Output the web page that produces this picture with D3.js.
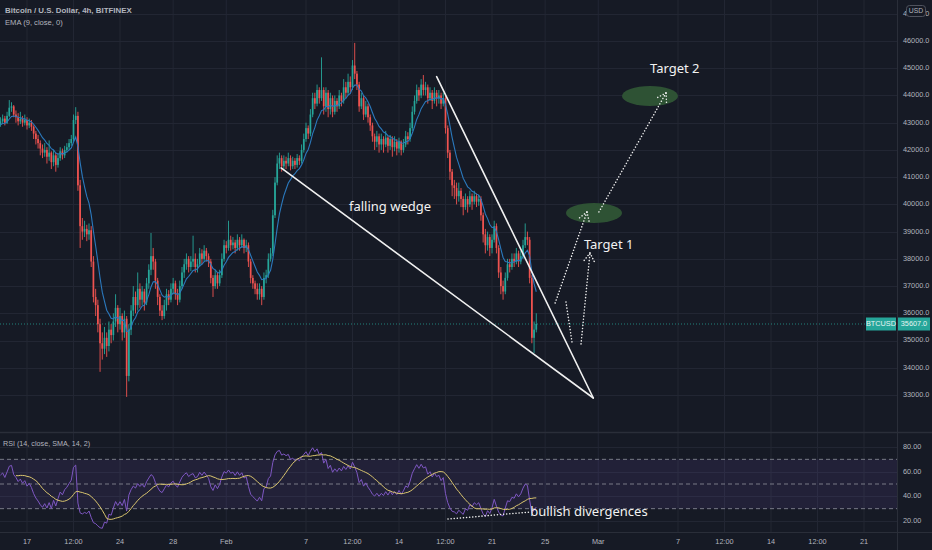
<!DOCTYPE html>
<html><head><meta charset="utf-8">
<script src="https://cdn.jsdelivr.net/npm/d3@7"></script>
<style>html,body{margin:0;padding:0;background:#161a25;overflow:hidden}</style>
</head><body><svg id="c" width="932" height="550"></svg>
<script>
// ---------------- DATA ----------------
const firstBar = "2022-01-15T00:00:00Z";      // time of closes[0], 4h bars
const barHours = 4;
// closes of the 20 bars before the first visible bar (warm-up for EMA / RSI)
const preCloses = [42600,42800,43100,43300,43500,43700,43600,43400,43100,42800,
                   42600,42700,42900,43100,42800,42600,42700,42900,43000,42950];
const closes = [
43050,43150,43000,43250,43550,43600,43300,43200,43050,43150,43000,43100,42900,43000,42850,
42600,42400,42250,42050,41900,42000,41750,41900,41550,41800,41450,41700,41950,41800,42000,
42100,42250,42400,43100,43250,40700,39200,39000,39100,38900,39050,37900,36600,36300,35600,
34900,34700,35100,34800,35400,35200,35700,36200,35600,35900,35300,35800,33700,35400,36100,
36600,36300,36900,36500,36800,36400,37100,37600,38100,37900,37200,36600,36100,35900,36300,
36700,36500,36900,37100,36700,36500,37000,37500,37800,38000,37700,37900,38000,37700,37800,
38200,38000,38300,38100,37900,37300,37000,37400,37100,37400,38000,38500,38400,38700,38500,
38600,38400,38700,38500,38700,38400,38500,37900,37300,37100,36900,36700,36900,36600,37300,
37400,38000,38200,39600,40800,41500,41700,41400,41600,41500,41700,41400,41600,41450,41700,
41600,42000,42400,42800,42600,43300,43900,43700,44200,43900,44200,43600,44100,43500,43900,
43400,43800,43600,44000,43800,44300,44100,44500,44300,45100,44800,44400,43600,43900,43300,
43600,43200,42900,42500,42300,42500,42200,42400,42200,42450,42150,42400,42100,42300,42050,
42300,42000,42200,42500,42400,42800,43400,43800,44200,44000,44400,44200,44300,43900,44100,
43800,44100,43900,44000,43700,43900,42800,41900,41200,40700,40600,40300,40500,40200,39900,
40200,40000,40300,40100,40300,40100,40200,39600,38900,38500,38800,38400,38700,39200,38400,
37500,37000,36800,37300,37800,37700,38000,37900,38200,37900,38100,38500,38800,38700,37300,
35100,35400,35607];
const highs = [
43200,43300,43250,43400,43830,43750,43650,43450,43350,43400,43250,43300,43200,43150,43100,
42900,42700,42550,42350,42200,42250,42100,42350,41950,42000,41900,41850,42100,42050,42150,
42250,42400,42550,43300,43570,43400,40900,39500,39400,39250,39300,39200,38100,36900,36500,
35800,35300,35500,35300,35700,35600,36000,36700,36300,36200,36000,36100,35900,35600,36300,
37000,36800,37500,37100,37000,36900,37300,37800,38950,38400,38000,37300,36700,36300,36500,
36900,36850,37100,37300,37200,36900,37200,37700,38000,38200,38100,38100,38850,38200,38000,
38400,38350,38500,38400,38200,38000,37400,37600,37500,37600,38200,38700,38650,39400,38850,
38800,38700,38900,38800,38900,38750,38700,38600,38000,37400,37200,37100,37100,37000,37500,
37600,38200,38400,39800,41000,41800,41900,41800,41800,41750,41900,41800,41750,41700,41850,
41800,42200,42600,43000,42900,43500,44100,44100,44400,44300,45400,44300,44300,44200,44100,
44000,44000,43900,44200,44100,44600,44500,44800,44700,45300,45930,44900,44500,44100,44000,
43800,43700,43300,43000,42600,42700,42600,42600,42500,42700,42500,42550,42500,42500,42400,
42450,42350,42400,42700,42650,43000,43600,44000,44400,44300,44600,44750,44500,44400,44300,
44200,44300,44200,44200,44100,44100,44000,42900,42000,41300,40900,40800,40800,40600,40300,
40400,40300,40500,40400,40500,40400,40350,40300,39700,39100,39000,38900,38900,39400,39300,
38500,37700,37200,37500,38000,38000,38200,38200,38400,38300,38300,38700,39300,39000,38800,
37400,35700,36000];
const lows = [
42850,42950,42900,42950,43200,43400,43200,43000,42900,42950,42850,42900,42750,42800,42700,
42400,42200,42050,41800,41700,41750,41500,41600,41300,41400,41200,41350,41600,41650,41700,
41900,42000,42150,42300,42950,40500,38400,38700,38800,38650,38700,37700,36400,35900,35300,
33850,34300,34500,34400,34600,34900,35000,35500,35300,35400,35000,35100,32930,33500,35200,
35900,36000,36100,36200,36300,36100,36300,36900,37400,37600,36900,36300,35900,35750,35800,
36100,36300,36400,36700,36500,36300,36400,36900,37300,37600,37500,37550,37700,37500,37500,
37700,37800,37900,37900,37700,37100,36600,36900,36900,37000,37300,37900,38200,38300,38300,
38350,38200,38300,38300,38400,38200,38250,37700,37100,36900,36700,36500,36500,36300,36500,
37100,37300,37900,38100,39500,40700,41300,41200,41250,41300,41400,41250,41300,41300,41350,
41450,41500,41900,42300,42400,42500,43200,43500,43600,43700,43800,43300,43400,43200,43300,
43200,43300,43400,43500,43600,43700,43900,44000,44100,44200,44600,44200,43400,43500,43100,
43200,43000,42700,42300,42000,42100,41900,42000,41900,42100,41900,42000,41750,41950,41800,
41900,41800,41900,42100,42200,42300,42700,43300,43700,43800,43900,44000,44000,43700,43800,
43500,43700,43600,43700,43500,43600,42600,41700,40900,40300,40200,40000,40100,39900,39600,
39800,39700,39900,39800,40000,39900,39950,39400,38600,38200,38300,38100,38200,38600,38200,
37300,36700,36500,36700,37200,37500,37600,37700,37800,37700,37800,38000,38400,38500,37100,
34900,34540,35300];
const lastPrice = 35607;
const priceTicks = [33000,34000,35000,36000,37000,38000,39000,40000,41000,42000,43000,44000,45000,46000,47000];
const rsiTicks = [20,40,60,80];
const rsiLevels = [70,50,30];
const timeTicks = [
  ["2022-01-17T00:00:00Z","17"],["2022-01-20T12:00:00Z","12:00"],["2022-01-24T00:00:00Z","24"],
  ["2022-01-28T00:00:00Z","28"],["2022-02-01T00:00:00Z","Feb"],["2022-02-07T00:00:00Z","7"],
  ["2022-02-10T12:00:00Z","12:00"],["2022-02-14T00:00:00Z","14"],["2022-02-17T12:00:00Z","12:00"],
  ["2022-02-21T00:00:00Z","21"],["2022-02-25T00:00:00Z","25"],["2022-03-01T00:00:00Z","Mar"],
  ["2022-03-07T00:00:00Z","7"],["2022-03-10T12:00:00Z","12:00"],["2022-03-14T00:00:00Z","14"],
  ["2022-03-17T12:00:00Z","12:00"],["2022-03-21T00:00:00Z","21"]];
// drawings (time, price)
const wedgeLower = [["2022-02-05T03:00:00Z",41337],["2022-02-28T15:00:00Z",32890]];
const wedgeUpper = [["2022-02-16T20:00:00Z",44690],["2022-02-28T15:00:00Z",32890]];
const arrowA = [["2022-02-25T18:00:00Z",36379],["2022-02-28T03:30:00Z",39721]];
const zigDown = [["2022-02-26T13:40:00Z",36416],["2022-02-27T00:30:00Z",34947]];
const arrowB = [["2022-02-27T16:50:00Z",34874],["2022-02-28T09:00:00Z",38215]];
const arrowC = [["2022-03-01T01:10:00Z",39721],["2022-03-06T02:20:00Z",44091]];
const target1Box = [["2022-02-26T13:40:00Z",40051],["2022-03-02T18:50:00Z",39317]];
const target2Box = [["2022-03-02T18:50:00Z",44348],["2022-03-07T00:00:00Z",43613]];
const rsiDiv = [["2022-02-17T16:30:00Z",21.6],["2022-02-23T20:40:00Z",27.3]];
const labels = [
  ["falling wedge","2022-02-10T05:40:00Z",39900,"main"],
  ["Target 1","2022-02-27T22:00:00Z",38500,"main"],
  ["Target 2","2022-03-04T21:20:00Z",44950,"main"],
  ["bullish divergences","2022-02-23T21:00:00Z",26.8,"rsi"]];

// ---------------- LAYOUT ----------------
const W=932,H=550, plotR=897, mainB=432, rsiT=433, rsiB=532;
const BG="#161a25", GRID="#222633", TXT="#b2b5be", UP="#26a69a", DN="#ef5350";
const svg=d3.select("#c");
svg.append("rect").attr("width",W).attr("height",H).attr("fill",BG);

const x=d3.scaleUtc().domain([new Date("2022-01-17T00:00:00Z"),new Date("2022-03-21T00:00:00Z")]).range([27,864]);
const y=d3.scaleLinear().domain([33000,46000]).range([395,41]);
const yr=d3.scaleLinear().domain([20,80]).range([521,447]);
const t0=new Date(firstBar).getTime();
const tOf=i=>new Date(t0+i*barHours*3600e3);
const P=s=>new Date(s);

const defs=svg.append("defs");
defs.append("clipPath").attr("id","cm").append("rect").attr("x",0).attr("y",0).attr("width",plotR).attr("height",mainB);
defs.append("clipPath").attr("id","cr").append("rect").attr("x",0).attr("y",rsiT).attr("width",plotR).attr("height",rsiB-rsiT);
const cb=defs.append("clipPath").attr("id","cb");
cb.append("rect").attr("x",plotR+1).attr("y",0).attr("width",9).attr("height",30);
cb.append("rect").attr("x",926).attr("y",0).attr("width",6).attr("height",30);

// grid
const g=svg.append("g");
timeTicks.forEach(([t])=>{g.append("line").attr("x1",x(P(t))).attr("x2",x(P(t))).attr("y1",0).attr("y2",rsiB).attr("stroke",GRID).attr("stroke-width",1);});
priceTicks.forEach(p=>{g.append("line").attr("x1",0).attr("x2",plotR).attr("y1",Math.round(y(p))+.5).attr("y2",Math.round(y(p))+.5).attr("stroke",GRID);});
rsiTicks.forEach(p=>{g.append("line").attr("x1",0).attr("x2",plotR).attr("y1",Math.round(yr(p))+.5).attr("y2",Math.round(yr(p))+.5).attr("stroke",GRID);});
// separators
svg.append("line").attr("x1",0).attr("x2",W).attr("y1",mainB+.5).attr("y2",mainB+.5).attr("stroke","#2a2e39").attr("stroke-width",1.5);
svg.append("line").attr("x1",0).attr("x2",W).attr("y1",rsiB+.5).attr("y2",rsiB+.5).attr("stroke","#2a2e39");
svg.append("line").attr("x1",plotR+.5).attr("x2",plotR+.5).attr("y1",0).attr("y2",H).attr("stroke","#2a2e39");

// ---------------- MAIN PANE ----------------
const main=svg.append("g").attr("clip-path","url(#cm)");
const all=preCloses.concat(closes);
const bars=closes.map((c,i)=>({t:tOf(i),o:i===0?preCloses[preCloses.length-1]:closes[i-1],c,h:highs[i],l:lows[i]}));
// last price line
main.append("line").attr("x1",0).attr("x2",866).attr("y1",y(lastPrice)).attr("y2",y(lastPrice)).attr("stroke",UP).attr("stroke-opacity",0.75).attr("stroke-dasharray","1,2").attr("stroke-width",1);
const cg=main.append("g");
bars.forEach(b=>{
  const col=b.c>=b.o?UP:DN, cx=x(b.t);
  cg.append("line").attr("x1",cx).attr("x2",cx).attr("y1",y(b.h)).attr("y2",y(b.l)).attr("stroke",col).attr("stroke-width",0.9);
  const yt=y(Math.max(b.o,b.c)), yb=y(Math.min(b.o,b.c));
  cg.append("rect").attr("x",cx-0.85).attr("width",1.7).attr("y",yt).attr("height",Math.max(1,yb-yt)).attr("fill",col);
});
// EMA 9
const k=2/(9+1); let e=all[0]; const ema=all.map(v=>(e=v*k+e*(1-k)));
const emaPts=closes.map((c,i)=>[x(tOf(i)),y(ema[i+preCloses.length])]);
main.append("path").attr("d",d3.line()(emaPts)).attr("fill","none").attr("stroke","#2b79bd").attr("stroke-width",1.1);

// drawings
const pt=([t,p])=>[x(P(t)),y(p)];
const ln=(pts,dash,w)=>main.append("path").attr("d",d3.line()(pts.map(pt))).attr("fill","none").attr("stroke","#f0f0f0").attr("stroke-width",w).attr("stroke-dasharray",dash||null).attr("stroke-linecap","round");
[target1Box,target2Box].forEach(bx=>{
  const [a,b]=bx.map(pt);
  main.append("ellipse").attr("cx",(a[0]+b[0])/2).attr("cy",(a[1]+b[1])/2).attr("rx",Math.abs(b[0]-a[0])/2).attr("ry",Math.abs(b[1]-a[1])/2).attr("fill","#2e5234");
});
ln(wedgeLower,null,1.6); ln(wedgeUpper,null,1.6);
const dotted="0.1,3";
function arrow(seg){
  ln(seg,dotted,1.5);
  const [a,b]=seg.map(pt), ang=Math.atan2(b[1]-a[1],b[0]-a[0]), L=11;
  [ang+Math.PI*0.82,ang-Math.PI*0.82].forEach(an=>{
    main.append("line").attr("x1",b[0]).attr("y1",b[1]).attr("x2",b[0]+L*Math.cos(an)).attr("y2",b[1]+L*Math.sin(an))
      .attr("stroke","#f0f0f0").attr("stroke-width",1.5).attr("stroke-dasharray",dotted).attr("stroke-linecap","round");
  });
}
arrow(arrowA); ln(zigDown,dotted,1.5); arrow(arrowB); arrow(arrowC);

// ---------------- RSI PANE ----------------
const rg=svg.append("g").attr("clip-path","url(#cr)");
rg.append("rect").attr("x",0).attr("width",plotR).attr("y",yr(70)).attr("height",yr(30)-yr(70)).attr("fill","rgba(126,87,194,0.12)");
rsiLevels.forEach(l=>rg.append("line").attr("x1",0).attr("x2",plotR).attr("y1",yr(l)).attr("y2",yr(l)).attr("stroke","#787b86").attr("stroke-dasharray","4,3").attr("stroke-width",1));
// Wilder RSI 14
const n=14; const rsi=new Array(all.length).fill(null);
let ag=0,al=0;
for(let i=1;i<=n;i++){const d=all[i]-all[i-1]; if(d>0)ag+=d; else al-=d;}
ag/=n; al/=n; rsi[n]=100-100/(1+ag/(al||1e-9));
for(let i=n+1;i<all.length;i++){const d=all[i]-all[i-1]; ag=(ag*(n-1)+Math.max(d,0))/n; al=(al*(n-1)+Math.max(-d,0))/n; rsi[i]=100-100/(1+ag/(al||1e-9));}
const sma=rsi.map((v,i)=>{ if(i<n+13) return null; let s=0; for(let j=i-13;j<=i;j++) s+=rsi[j]; return s/14; });
const off=preCloses.length;
const rsiPts=closes.map((c,i)=>[x(tOf(i)),yr(rsi[i+off])]).filter((d,i)=>rsi[i+off]!==null);
const smaPts=closes.map((c,i)=>[x(tOf(i)),sma[i+off]]).filter(d=>d[1]!==null).map(d=>[d[0],yr(d[1])]);
rg.append("path").attr("d",d3.line()(rsiPts)).attr("fill","none").attr("stroke","#7e57c2").attr("stroke-width",1);
rg.append("path").attr("d",d3.line()(smaPts)).attr("fill","none").attr("stroke","#d9c56e").attr("stroke-width",1);
const rpt=([t,v])=>[x(P(t)),yr(v)];
rg.append("path").attr("d",d3.line()(rsiDiv.map(rpt))).attr("fill","none").attr("stroke","#f0f0f0").attr("stroke-width",1.5).attr("stroke-dasharray",dotted).attr("stroke-linecap","round");

// ---------------- TEXT ----------------
const AX="'Liberation Sans', Arial, sans-serif";
const ANN="'Noto Sans', 'Open Sans', sans-serif";
labels.forEach(([s,t,v,pane])=>{
  svg.append("text").attr("x",x(P(t))).attr("y",pane==="rsi"?yr(v):y(v)).attr("fill","#f2f2f2")
    .attr("font-family",ANN).attr("font-size",13).attr("dominant-baseline","middle").text(s);
});
svg.append("text").attr("x",5).attr("y",13).attr("fill",TXT).attr("font-family",AX).attr("font-size",7.9).attr("font-weight","bold").text("Bitcoin / U.S. Dollar, 4h, BITFINEX");
svg.append("text").attr("x",5).attr("y",25).attr("fill",TXT).attr("font-family",AX).attr("font-size",7.6).text("EMA (9, close, 0)");
svg.append("text").attr("x",3).attr("y",446).attr("fill",TXT).attr("font-family",AX).attr("font-size",7.2).text("RSI (14, close, SMA, 14, 2)");
// price axis (the top label is partly hidden behind the USD badge, as in the reference)
priceTicks.forEach(p=>{
  const t=svg.append("text").attr("x",903).attr("y",y(p)).attr("dominant-baseline","middle").attr("fill",TXT).attr("font-family",AX).attr("font-size",7.3).text(d3.format(".1f")(p));
  if(y(p)<20) t.attr("clip-path","url(#cb)");
});
rsiTicks.forEach(p=>svg.append("text").attr("x",903).attr("y",yr(p)).attr("dominant-baseline","middle").attr("fill",TXT).attr("font-family",AX).attr("font-size",7.3).text(d3.format(".2f")(p)));
// time axis
timeTicks.forEach(([t,s])=>svg.append("text").attr("x",x(P(t))).attr("y",542).attr("text-anchor","middle").attr("dominant-baseline","middle").attr("fill",TXT).attr("font-family",AX).attr("font-size",7.3).text(s));
// USD badge
svg.append("rect").attr("x",906.5).attr("y",5.5).attr("width",19).attr("height",11).attr("rx",3).attr("fill",BG).attr("stroke","#50535e");
svg.append("text").attr("x",916).attr("y",11.5).attr("text-anchor","middle").attr("dominant-baseline","middle").attr("fill",TXT).attr("font-family",AX).attr("font-size",6.8).text("USD");
// last price labels
const ly=y(lastPrice);
svg.append("rect").attr("x",866).attr("y",ly-6.5).attr("width",30).attr("height",13).attr("fill",UP);
svg.append("text").attr("x",881).attr("y",ly+0.5).attr("text-anchor","middle").attr("dominant-baseline","middle").attr("fill","#e8f5f3").attr("font-family",AX).attr("font-size",7.3).text("BTCUSD");
svg.append("rect").attr("x",898).attr("y",ly-6.5).attr("width",32).attr("height",13).attr("fill",UP);
svg.append("text").attr("x",914).attr("y",ly+0.5).attr("text-anchor","middle").attr("dominant-baseline","middle").attr("fill","#e8f5f3").attr("font-family",AX).attr("font-size",7.3).text(d3.format(".1f")(lastPrice));
</script></body></html>
